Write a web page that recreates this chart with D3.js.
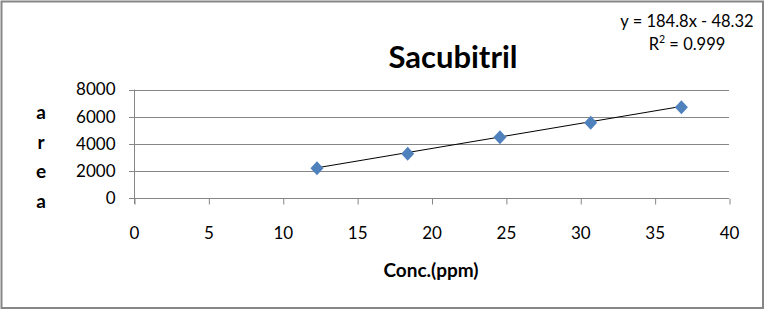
<!DOCTYPE html>
<html>
<head>
<meta charset="utf-8">
<script src="https://cdn.jsdelivr.net/npm/d3@7"></script>
<style>
  body { margin: 0; background: #fff; }
  text { font-family: Lato, "Open Sans", sans-serif; fill: #000; }
</style>
</head>
<body>
<svg width="765" height="312"></svg>
<script>
// data
var conc = [12.3, 18.4, 24.6, 30.7, 36.8];
var area = [2200, 3260, 4480, 5550, 6700];
var xTicks = [0, 5, 10, 15, 20, 25, 30, 35, 40];
var yTicks = [0, 2000, 4000, 6000, 8000];
var slope = 184.8, intercept = -48.32;

function main() {
    var svg = d3.select("svg");

    // chart border
    svg.append("rect")
        .attr("x", 1.5).attr("y", 1.5)
        .attr("width", 761.5).attr("height", 306.5)
        .attr("fill", "#fff")
        .attr("stroke", "#868686")
        .attr("stroke-width", 2);

    var xScale = d3.scaleLinear().domain([0, 40]).range([134, 729]);
    var yScale = d3.scaleLinear().domain([0, 8000]).range([198, 89.5]);

    // gridlines
    svg.append("g")
        .selectAll("line")
        .data(yTicks)
        .enter().append("line")
        .attr("x1", xScale(0) - 5)
        .attr("x2", xScale(40))
        .attr("y1", function(d){ return Math.round(yScale(d)) + 0.5; })
        .attr("y2", function(d){ return Math.round(yScale(d)) + 0.5; })
        .attr("stroke", "#868686")
        .attr("stroke-width", 1);

    // x axis
    var xAxis = svg.append("g")
        .attr("transform", "translate(0," + (Math.round(yScale(0)) + 0.5) + ")")
        .call(d3.axisBottom(xScale).tickValues(xTicks).tickSize(6).tickPadding(22).tickSizeOuter(0));
    xAxis.select(".domain").remove();
    xAxis.selectAll("line").attr("stroke", "#868686").attr("transform", "translate(0.5,0)");
    xAxis.selectAll("text")
        .attr("font-family", "Lato, sans-serif")
        .attr("font-size", "17px")
        .attr("fill", "#000");

    // y axis
    var yAxis = svg.append("g")
        .attr("transform", "translate(" + (Math.round(xScale(0)) + 0.5) + ",0)")
        .call(d3.axisLeft(yScale).tickValues(yTicks).tickFormat(d3.format("d"))
            .tickSize(0).tickPadding(19).tickSizeOuter(0));
    yAxis.select(".domain")
        .attr("d", "M0," + yScale(8000) + "V" + (yScale(0) + 6))
        .attr("stroke", "#868686");
    yAxis.selectAll("text")
        .attr("font-family", "Lato, sans-serif")
        .attr("font-size", "17px")
        .attr("fill", "#000");

    // trendline
    var ext = d3.extent(conc);
    svg.append("line")
        .attr("x1", xScale(ext[0]))
        .attr("y1", yScale(slope * ext[0] + intercept))
        .attr("x2", xScale(ext[1]))
        .attr("y2", yScale(slope * ext[1] + intercept))
        .attr("stroke", "#000")
        .attr("stroke-width", 1);

    // markers
    var pts = conc.map(function(c, i){ return {x: c, y: area[i]}; });
    svg.append("g")
        .selectAll("path")
        .data(pts)
        .enter().append("path")
        .attr("d", "M0,-7L6.5,0L0,7L-6.5,0Z")
        .attr("transform", function(d){ return "translate(" + xScale(d.x) + "," + yScale(d.y) + ")"; })
        .attr("fill", "#4f81bd");

    // title
    svg.append("text")
        .attr("x", 453).attr("y", 68)
        .attr("text-anchor", "middle")
        .attr("font-size", "31px")
        .attr("font-weight", "bold")
        .text("Sacubitril");

    // equation
    svg.append("text")
        .attr("x", 687).attr("y", 27)
        .attr("text-anchor", "middle")
        .attr("font-size", "16.5px")
        .text("y = 184.8x - 48.32");
    var r2 = svg.append("text")
        .attr("x", 687).attr("y", 50)
        .attr("text-anchor", "middle")
        .attr("font-size", "16.5px");
    r2.append("tspan").text("R");
    r2.append("tspan").attr("font-size", "10.5px").attr("dy", -7).text("2");
    r2.append("tspan").attr("dy", 7).text(" = 0.999");

    // x axis title
    svg.append("text")
        .attr("x", 431).attr("y", 277)
        .attr("text-anchor", "middle")
        .attr("font-size", "19px")
        .attr("font-weight", "bold")
        .text("Conc.(ppm)");

    // y axis title, one letter per line
    svg.append("g")
        .selectAll("text")
        .data(["a", "r", "e", "a"])
        .enter().append("text")
        .attr("x", 41)
        .attr("y", function(d, i){ return 119 + i * 29.7; })
        .attr("text-anchor", "middle")
        .attr("font-size", "19px")
        .attr("font-weight", "bold")
        .text(function(d){ return d; });
}

main();
</script>
</body>
</html>
